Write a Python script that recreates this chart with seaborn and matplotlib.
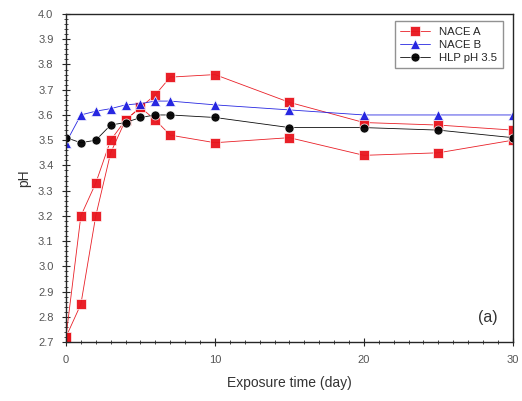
import matplotlib
matplotlib.use("Agg")
import matplotlib.pyplot as plt
import seaborn as sns
import pandas as pd
from matplotlib.ticker import MultipleLocator

# exposure days
days = [0, 1, 2, 3, 4, 5, 6, 7, 10, 15, 20, 25, 30]

# NACE A was measured twice (two red curves)
nace_a_run1 = [2.72, 3.20, 3.33, 3.50, 3.58, 3.63, 3.68, 3.75, 3.76, 3.65, 3.57, 3.56, 3.54]
nace_a_run2 = [2.72, 2.85, 3.20, 3.45, 3.58, 3.63, 3.58, 3.52, 3.49, 3.51, 3.44, 3.45, 3.50]
nace_b = [3.49, 3.60, 3.615, 3.625, 3.64, 3.645, 3.655, 3.655, 3.64, 3.62, 3.60, 3.60, 3.60]
hlp = [3.51, 3.49, 3.50, 3.56, 3.57, 3.59, 3.60, 3.60, 3.59, 3.55, 3.55, 3.54, 3.51]

labels = ["NACE A", "NACE B", "HLP pH 3.5"]
colors = {"NACE A": "#e8141c", "NACE B": "#1c1ce0", "HLP pH 3.5": "#000000"}
markers = {"NACE A": "s", "NACE B": "^", "HLP pH 3.5": "o"}

rows = []
for run, (name, vals) in enumerate([("NACE A", nace_a_run1), ("NACE A", nace_a_run2),
                                     ("NACE B", nace_b), ("HLP pH 3.5", hlp)]):
    for d, v in zip(days, vals):
        rows.append({"day": d, "pH": v, "solution": name, "run": run})
df = pd.DataFrame(rows)

sns.set_style("ticks")
plt.rcParams["font.family"] = ["Liberation Sans", "DejaVu Sans"]

fig = plt.figure(figsize=(5.22, 4.01), dpi=100)
ax = fig.add_axes([0.1264, 0.147, 0.856, 0.818])

sns.lineplot(data=df, x="day", y="pH", hue="solution", hue_order=labels,
             style="solution", style_order=labels, markers=markers, dashes=False,
             units="run", estimator=None, sort=False, palette=colors,
             linewidth=0.6, markersize=6.5, markeredgewidth=0.5, alpha=0.95, ax=ax)

ax.set_xlim(0, 30)
ax.set_ylim(2.7, 4.0)
ax.xaxis.set_major_locator(MultipleLocator(10))
ax.xaxis.set_minor_locator(MultipleLocator(1))
ax.yaxis.set_major_locator(MultipleLocator(0.1))
ax.yaxis.set_minor_locator(MultipleLocator(0.02))
ax.yaxis.set_major_formatter(matplotlib.ticker.FormatStrFormatter("%.1f"))
ax.tick_params(which="major", direction="inout", length=6, width=0.8,
               labelsize=8, labelcolor="#555555", pad=6)
ax.tick_params(which="minor", direction="inout", length=3, width=0.6)
for s in ax.spines.values():
    s.set_linewidth(1.0)
    s.set_visible(True)

ax.set_xlabel("Exposure time (day)", fontsize=10, color="#333333", labelpad=8)
ax.set_ylabel("pH", fontsize=10, color="#333333", labelpad=5)
ax.text(0.945, 0.075, "(a)", transform=ax.transAxes, ha="center", va="center",
        fontsize=11.5, color="#333333")

handles, lbls = ax.get_legend_handles_labels()
ax.legend(handles, lbls, loc="upper right", bbox_to_anchor=(0.99, 0.995),
          fontsize=8.2, frameon=True, fancybox=False, edgecolor="#777777",
          handlelength=2.6, borderpad=0.5, labelspacing=0.25)

fig.savefig("out.png", dpi=100)
